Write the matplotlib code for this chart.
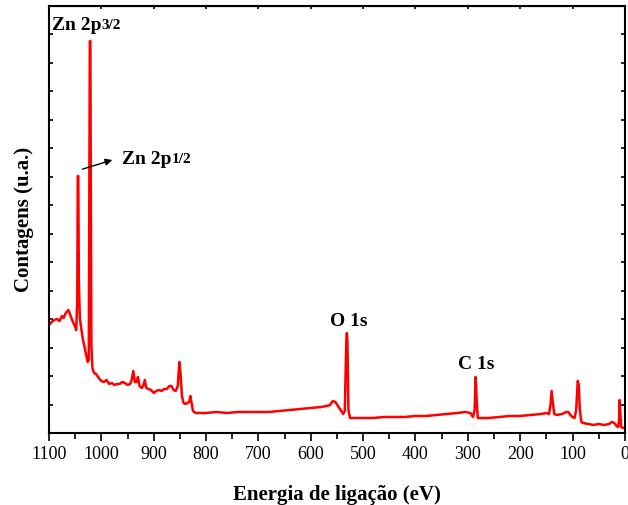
import matplotlib
matplotlib.use('Agg')
import matplotlib.pyplot as plt
from matplotlib.ticker import MultipleLocator, NullFormatter

# espectro XPS (energia de ligação, contagens em u.a.)
energia = [1100, 1095, 1090, 1085, 1080, 1075, 1072, 1068, 1063, 1060, 1055, 1050, 1048,
           1046, 1045, 1044, 1043, 1041, 1038, 1035, 1032, 1029, 1026, 1024, 1023, 1022,
           1021, 1020, 1019, 1017, 1014, 1010, 1005, 1000, 995, 990, 985, 980, 975, 970,
           965, 960, 955, 950, 945, 942, 939, 936, 933, 930, 927, 923, 920, 917, 914, 910,
           905, 900, 895, 890, 885, 880, 875, 870, 866, 862, 858, 854, 851, 849, 846, 843,
           840, 836, 832, 830, 828, 825, 820, 810, 800, 780, 760, 740, 720, 700, 680, 660,
           640, 620, 600, 580, 570, 563, 558, 553, 548, 543, 538, 535, 532, 531, 530, 528,
           525, 520, 500, 480, 460, 440, 420, 400, 380, 360, 340, 320, 305, 295, 290, 287,
           285, 283, 281, 275, 260, 240, 220, 200, 180, 160, 150, 145, 142, 140, 138, 135,
           130, 120, 112, 108, 104, 100, 96, 93, 90, 88, 86, 83, 80, 70, 60, 50, 40, 30,
           25, 20, 16, 13, 11, 10, 9, 7, 3, 0]
pix = [325, 322, 320, 319, 321, 316, 318, 313, 310, 314, 321, 327, 330,
       300, 176, 176, 280, 318, 330, 340, 347, 355, 362, 360, 200, 41,
       41, 200, 345, 368, 373, 374, 378, 381, 382, 380, 384, 383, 385, 384,
       384, 382, 383, 385, 384, 380, 371, 382, 382, 377, 386, 388, 386, 380, 388, 389,
       390, 393, 391, 390, 391, 389, 389, 386, 386, 390, 391, 386, 362, 372, 396, 403,
       404, 403, 402, 396, 402, 411, 413, 413, 413, 412, 413, 412, 412, 412, 412, 411,
       410, 409, 408, 407, 406, 405, 401, 402, 406, 410, 414, 411, 340, 333, 340, 410,
       418, 418, 418, 418, 417, 417, 417, 416, 416, 415, 414, 413, 412, 413, 417, 410,
       377, 400, 418, 418, 418, 417, 416, 416, 415, 414, 413, 414, 405, 391, 400, 414,
       415, 414, 412, 412, 415, 417, 418, 410, 381, 385, 410, 422, 423, 424, 425, 424, 425, 424,
       422, 423, 426, 427, 420, 400, 410, 427, 428, 428]
contagens = [(433 - p) / 28.47 for p in pix]

plt.rcParams['font.family'] = ['Liberation Serif', 'DejaVu Serif']

fig = plt.figure(figsize=(6.28, 5.05), dpi=100)
ax = fig.add_axes([0.078, 0.1426, 0.917, 0.8455])

ax.plot(energia, contagens, color='#ff0000', lw=1.8)

ax.set_xlim(1100, 0)
ax.set_ylim(0, 15)
ax.xaxis.set_major_locator(MultipleLocator(100))
ax.xaxis.set_minor_locator(MultipleLocator(50))
ax.yaxis.set_major_locator(MultipleLocator(1))
ax.yaxis.set_major_formatter(NullFormatter())
ax.tick_params(axis='x', which='major', direction='out', length=6, width=1.2, labelsize=13)
ax.tick_params(axis='x', which='minor', direction='out', length=4, width=1.2)
ax.tick_params(axis='y', which='major', direction='in', length=3, width=1.2, right=True)
for s in ax.spines.values():
    s.set_linewidth(1.5)

# petits traits en haut
top = ax.secondary_xaxis('top')
top.xaxis.set_major_locator(MultipleLocator(100))
top.tick_params(direction='in', length=2, width=1.2, labeltop=False)

ax.set_xlabel('Energia de ligação (eV)', fontsize=15, fontweight='bold', labelpad=16)
ax.set_ylabel('Contagens (u.a.)', fontsize=15, fontweight='bold', labelpad=7)

bold = dict(fontweight='bold', va='center')
t1 = ax.text(1094, 14.3, 'Zn 2p', fontsize=14, **bold)
ax.annotate('3/2', xy=(1, 0.12), xycoords=t1, fontsize=11, fontweight='bold', va='bottom')

t2 = ax.text(960, 9.62, 'Zn 2p', fontsize=14, **bold)
ax.annotate('1/2', xy=(1, 0.12), xycoords=t2, fontsize=11, fontweight='bold', va='bottom')
ax.annotate('', xy=(974, 9.62), xytext=(1041, 9.24),
            arrowprops=dict(arrowstyle='-|>', color='black', lw=1, mutation_scale=10))

ax.text(563, 3.93, 'O 1s', fontsize=14, **bold)
ax.text(319, 2.42, 'C 1s', fontsize=14, **bold)

fig.savefig('out.png', dpi=100)
